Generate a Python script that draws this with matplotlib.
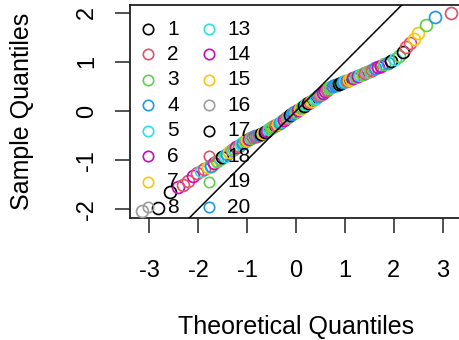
import matplotlib
matplotlib.use("Agg")
import matplotlib.pyplot as plt

plt.rcParams['font.family'] = ['Liberation Sans', 'DejaVu Sans']

# Theoretical quantiles (x) and sample quantiles (y)
theo = [-3.15, -2.82, -2.57, -2.41, -2.30, -2.20, -2.10, -2.02, -1.94, -1.87,
        -1.80, -1.74, -1.68, -1.62, -1.56, -1.51, -1.46, -1.41, -1.36, -1.31,
        -1.26, -1.22, -1.17, -1.13, -1.08, -1.04, -1.00, -0.96, -0.92, -0.88,
        -0.84, -0.80, -0.76, -0.72, -0.68, -0.64, -0.60, -0.56, -0.52, -0.48,
        -0.44, -0.40, -0.36, -0.32, -0.28, -0.24, -0.20, -0.16, -0.12, -0.08,
        -0.04, 0.00, 0.04, 0.08, 0.12, 0.16, 0.20, 0.24, 0.28, 0.32,
        0.36, 0.40, 0.44, 0.48, 0.52, 0.56, 0.60, 0.64, 0.68, 0.72,
        0.76, 0.80, 0.84, 0.88, 0.92, 0.96, 1.00, 1.04, 1.08, 1.13,
        1.17, 1.22, 1.26, 1.31, 1.36, 1.41, 1.46, 1.51, 1.56, 1.62,
        1.68, 1.74, 1.80, 1.87, 1.94, 2.02, 2.10, 2.18, 2.25, 2.33,
        2.41, 2.49, 2.65, 2.84, 3.16]
sample = [-2.04, -1.98, -1.66, -1.55, -1.50, -1.42, -1.33, -1.27, -1.22, -1.18,
          -1.15, -1.12, -1.06, -1.01, -0.97, -0.94, -0.91, -0.87, -0.84, -0.80,
          -0.77, -0.74, -0.71, -0.68, -0.65, -0.62, -0.59, -0.57, -0.55, -0.53,
          -0.51, -0.50, -0.48, -0.46, -0.44, -0.42, -0.40, -0.37, -0.35, -0.33,
          -0.30, -0.28, -0.26, -0.24, -0.21, -0.18, -0.15, -0.12, -0.09, -0.06,
          -0.03, -0.01, 0.02, 0.05, 0.08, 0.11, 0.14, 0.16, 0.19, 0.21,
          0.24, 0.27, 0.30, 0.32, 0.35, 0.37, 0.40, 0.43, 0.46, 0.48,
          0.50, 0.52, 0.53, 0.55, 0.57, 0.59, 0.61, 0.62, 0.64, 0.66,
          0.68, 0.70, 0.72, 0.74, 0.76, 0.78, 0.80, 0.82, 0.84, 0.87,
          0.90, 0.92, 0.95, 0.98, 1.01, 1.06, 1.12, 1.21, 1.30, 1.38,
          1.47, 1.58, 1.76, 1.91, 2.00]
group = [16, 17, 1, 6, 2, 18, 14, 10, 5, 2,
         7, 12, 6, 11, 3, 9, 13, 4, 15, 8,
         19, 6, 2, 5, 20, 11, 7, 14, 3, 10,
         12, 18, 4, 9, 15, 1, 6, 13, 19, 3,
         11, 2, 7, 20, 5, 14, 10, 8, 17, 12,
         4, 19, 6, 15, 3, 1, 13, 9, 18, 7,
         11, 5, 20, 2, 16, 14, 6, 10, 19, 3,
         4, 12, 20, 1, 9, 4, 13, 2, 7, 15,
         6, 11, 14, 5, 3, 18, 8, 19, 10, 12,
         14, 6, 3, 20, 9, 5, 11, 17, 2, 18,
         15, 7, 3, 4, 2]

legend_labels = [str(i) for i in range(1, 21)]
palette = ["black", "#DF536B", "#61D04F", "#2297E6", "#28E2E5", "#CD0BBC", "#F5C710", "#9E9E9E"]
line_intercept = 0.0
line_slope = 1.0

x_ticks = [-3, -2, -1, 0, 1, 2, 3]
y_ticks = [-2, -1, 0, 1, 2]

W, H = 460, 340
fig = plt.figure(figsize=(W / 100, H / 100), dpi=100)
ax = fig.add_axes([130 / W, 1 - 218 / H, 332 / W, 213 / H])
ax.set_xlim(-3.39, 3.39)
ax.set_ylim(-2.18, 2.16)

def col(g):
    return palette[(g - 1) % 8]

for xv, yv, g in zip(theo, sample, group):
    ax.plot(xv, yv, 'o', mfc='none', mec=col(g), ms=8.6, mew=1.25, zorder=3)

xl = ax.get_xlim()
ax.plot(xl, [line_intercept + line_slope * v for v in xl], color='black', lw=1.1, zorder=4)

# legend (two columns, no border), clipped to plot region like R
row0, dy = 1.67, 0.518
cols = [(-3.02, -2.63, legend_labels[:12]), (-1.78, -1.41, legend_labels[12:])]
for sx, tx, labs in cols:
    for i, lab in enumerate(labs):
        yy = row0 - i * dy
        g = int(lab)
        ax.plot(sx, yy, 'o', mfc='none', mec=col(g), ms=7.5, mew=1.2, zorder=5, clip_on=True)
        ax.text(tx, yy, lab, fontsize=15, va='center', ha='left', zorder=5, clip_on=True)

ax.set_xticks(x_ticks)
ax.set_yticks(y_ticks)
ax.set_xticklabels([str(v) for v in x_ticks])
ax.set_yticklabels([str(v) for v in y_ticks], rotation=90, va='center')
ax.tick_params(axis='both', direction='out', length=11, width=1.1, labelsize=17, color='#222222')
ax.tick_params(axis='x', pad=19)
ax.tick_params(axis='y', pad=12)
for s in ax.spines.values():
    s.set_linewidth(1.3)
    s.set_color('#222222')

fig.text(296 / W, 1 - 327 / H, "Theoretical Quantiles", ha='center', va='center', fontsize=18)
fig.text(22 / W, 1 - 111.5 / H, "Sample Quantiles", ha='center', va='center', rotation=90, fontsize=18)

fig.savefig("out.png", dpi=100)
